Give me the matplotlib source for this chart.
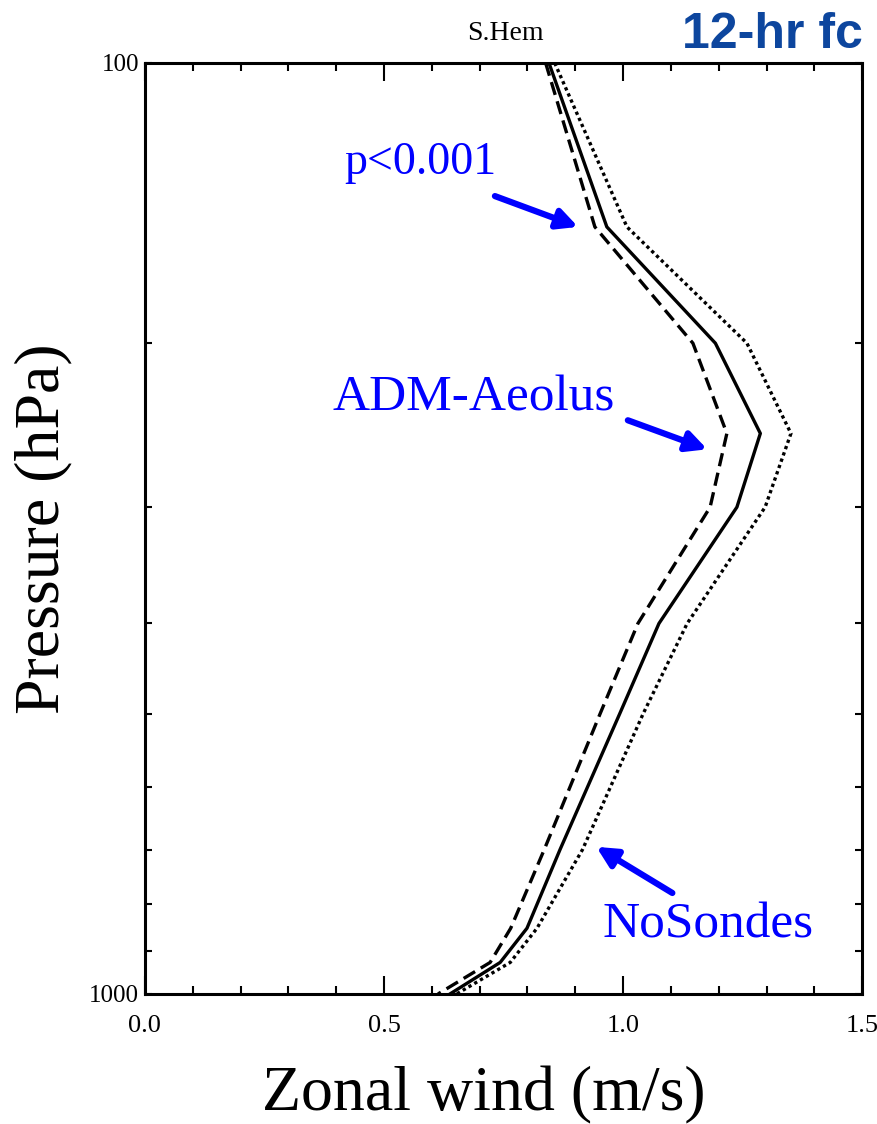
import matplotlib

matplotlib.use("Agg")
import matplotlib.pyplot as plt
from matplotlib.ticker import FixedLocator, NullFormatter, MultipleLocator

# pressure levels (hPa) and zonal wind (m/s) for each experiment
levels = [100, 150, 200, 250, 300, 400, 500, 700, 850, 925, 1000]
wind_ctrl = [0.845, 0.966, 1.193, 1.287, 1.238, 1.075, 0.993, 0.868, 0.799, 0.743, 0.638]
wind_aeolus = [0.838, 0.941, 1.146, 1.217, 1.182, 1.031, 0.952, 0.835, 0.765, 0.722, 0.613]
wind_nosondes = [0.857, 1.008, 1.259, 1.351, 1.297, 1.134, 1.042, 0.915, 0.820, 0.764, 0.652]

ytick_vals = [100, 200, 300, 400, 500, 600, 700, 800, 900, 1000]
xtick_major = [0.0, 0.5, 1.0, 1.5]

serif = ["Liberation Serif", "DejaVu Serif"]

fig = plt.figure(figsize=(8.78, 11.24), dpi=100)
ax = fig.add_axes([0.165, 0.1157, 0.817, 0.8283])

ax.plot(wind_ctrl, levels, color="black", lw=2.4, ls="-")
ax.plot(wind_aeolus, levels, color="black", lw=2.4, ls=(0, (4, 2)))
ax.plot(wind_nosondes, levels, color="black", lw=2.4, ls=(0, (1, 1)))

ax.set_yscale("log")
ax.set_ylim(1000, 100)
ax.set_xlim(0.0, 1.5)

ax.yaxis.set_major_locator(FixedLocator(ytick_vals))
ax.yaxis.set_minor_locator(FixedLocator([]))
ax.set_yticklabels(["100"] + [""] * 8 + ["1000"])
ax.yaxis.set_minor_formatter(NullFormatter())

ax.xaxis.set_major_locator(FixedLocator(xtick_major))
ax.xaxis.set_minor_locator(MultipleLocator(0.1))
ax.set_xticklabels([f"{v:.1f}" for v in xtick_major])

ax.tick_params(axis="x", which="major", direction="in", length=13, width=1.5,
               top=True, pad=15, labelsize=19)
ax.tick_params(axis="x", which="minor", direction="in", length=6, width=1.5, top=True)
ax.tick_params(axis="y", which="major", direction="in", length=5, width=1.5,
               right=True, pad=4, labelsize=18)
for lab in ax.get_xticklabels() + ax.get_yticklabels():
    lab.set_family(serif)

for sp in ax.spines.values():
    sp.set_linewidth(2.2)

ax.set_xlabel("Zonal wind (m/s)", family=serif, fontsize=46)
ax.xaxis.set_label_coords(0.473, -0.078)
ax.set_ylabel("Pressure (hPa)", family=serif, fontsize=46, labelpad=12)

# annotations
ap = dict(arrowstyle="-|>", color="blue", lw=4.5, mutation_scale=30, shrinkA=0, shrinkB=0)
ax.text(0.575, 128, "p<0.001", color="blue", family=serif, fontsize=33,
        ha="center", va="center")
ax.annotate("", xy=(0.906, 150), xytext=(0.732, 139), arrowprops=ap)

ax.text(0.688, 229, "ADM-Aeolus", color="blue", family=serif, fontsize=37,
        ha="center", va="center")
ax.annotate("", xy=(1.176, 260), xytext=(1.010, 242), arrowprops=ap)

ax.text(1.178, 843, "NoSondes", color="blue", family=serif, fontsize=37,
        ha="center", va="center")
ax.annotate("", xy=(0.944, 695), xytext=(1.103, 779), arrowprops=ap)

fig.text(505 / 878, 1 - 34 / 1124, "S.Hem", family=serif, fontsize=20,
         ha="center", va="center")
fig.text(772 / 878, 1 - 35 / 1124, "12-hr fc", family=["Liberation Sans", "DejaVu Sans"],
         fontsize=36, fontweight="bold", color="#0d469e", ha="center", va="center")

fig.savefig("out.png", dpi=100)
